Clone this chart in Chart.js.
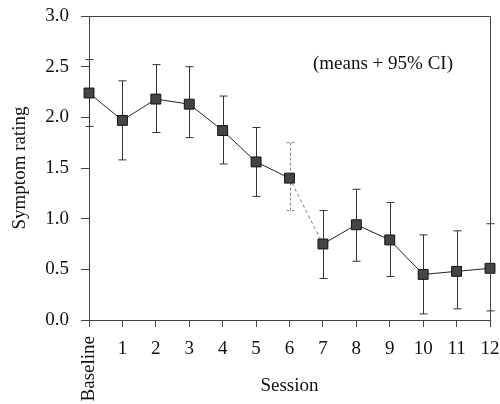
<!DOCTYPE html>
<html>
<head>
<meta charset="utf-8">
<script src="https://cdn.jsdelivr.net/npm/chart.js@4.4.1/dist/chart.umd.min.js"></script>
<style>
  html, body { margin: 0; padding: 0; background: #fff; }
  #wrap { width: 500px; height: 404px; }
</style>
</head>
<body>
<div id="wrap"><canvas id="symptom_chart"></canvas></div>
<script>
// sessions and symptom ratings (means with 95% CI)
const sessions = ['Baseline', '1', '2', '3', '4', '5', '6', '7', '8', '9', '10', '11', '12'];
const means = [2.24, 1.97, 2.18, 2.13, 1.87, 1.56, 1.40, 0.75, 0.94, 0.79, 0.45, 0.48, 0.51];
const ci_upper = [2.57, 2.36, 2.52, 2.50, 2.21, 1.90, 1.75, 1.08, 1.29, 1.16, 0.84, 0.88, 0.95];
const ci_lower = [1.91, 1.58, 1.85, 1.80, 1.54, 1.22, 1.08, 0.41, 0.58, 0.43, 0.06, 0.11, 0.09];
const y_ticks = [0, 0.5, 1.0, 1.5, 2.0, 2.5, 3.0];

const serif = '"Liberation Serif", "DejaVu Serif", serif';
const ink = '#222';

// error bars, frame and x labels
const extras = {
    id: 'extras',
    beforeDatasetsDraw(chart) {
        const ctx = chart.ctx;
        const x = chart.scales.x, y = chart.scales.y;
        ctx.save();
        ctx.lineWidth = 1;
        for (var i = 0; i < sessions.length; i++) {
            const px = Math.round(x.getPixelForValue(i)) + 0.5;
            const top = y.getPixelForValue(ci_upper[i]);
            const bot = y.getPixelForValue(ci_lower[i]);
            ctx.strokeStyle = i == 6 ? '#888' : '#333';
            ctx.setLineDash(i == 6 ? [3, 2] : []);
            ctx.beginPath();
            ctx.moveTo(px, top); ctx.lineTo(px, bot);
            ctx.moveTo(px - 4, top); ctx.lineTo(px + 4, top);
            ctx.moveTo(px - 4, bot); ctx.lineTo(px + 4, bot);
            ctx.stroke();
        }
        ctx.restore();
    },
    afterDraw(chart) {
        const ctx = chart.ctx;
        const a = chart.chartArea;
        const x = chart.scales.x;
        ctx.save();
        // top and right frame lines
        ctx.strokeStyle = '#444';
        ctx.lineWidth = 1;
        ctx.beginPath();
        ctx.moveTo(a.left, a.top + 0.5); ctx.lineTo(a.right + 0.5, a.top + 0.5);
        ctx.lineTo(a.right + 0.5, a.bottom);
        ctx.stroke();

        ctx.fillStyle = '#111';
        ctx.font = '19px ' + serif;
        for (var i = 0; i < sessions.length; i++) {
            const px = x.getPixelForValue(i);
            if (i == 0) {
                ctx.save();
                ctx.translate(px, a.bottom + 16);
                ctx.rotate(-Math.PI / 2);
                ctx.textAlign = 'right';
                ctx.textBaseline = 'middle';
                ctx.fillText(sessions[i], 0, 0);
                ctx.restore();
            } else {
                ctx.textAlign = 'center';
                ctx.textBaseline = 'middle';
                ctx.fillText(sessions[i], px, a.bottom + 29);
            }
        }
        ctx.textAlign = 'center';
        ctx.textBaseline = 'middle';
        ctx.fillText('Session', (a.left + a.right) / 2, a.bottom + 66);
        ctx.fillText('(means + 95% CI)', 383, 64);
        ctx.restore();
    }
};

const canvas = document.getElementById('symptom_chart');
const chart = new Chart(canvas, {
    type: 'line',
    data: {
        labels: sessions,
        datasets: [{
            label: 'Symptom rating',
            data: means,
            borderColor: ink,
            borderWidth: 1,
            pointStyle: 'rect',
            pointRadius: 7,
            pointBackgroundColor: '#454545',
            pointBorderColor: '#111',
            pointBorderWidth: 1,
            tension: 0,
            segment: {
                borderDash: c => c.p0DataIndex == 6 ? [3, 3] : undefined,
                borderColor: c => c.p0DataIndex == 6 ? '#777' : undefined
            }
        }]
    },
    options: {
        responsive: true,
        maintainAspectRatio: false,
        animation: false,
        layout: { padding: { top: 16, right: 10, left: 0, bottom: 0 } },
        plugins: {
            legend: { display: false },
            tooltip: { enabled: false }
        },
        scales: {
            x: {
                type: 'category',
                offset: false,
                grid: { display: true, drawOnChartArea: false, tickLength: 7, color: '#444' },
                border: { color: '#444', width: 1 },
                ticks: { display: false },
                afterFit: s => { s.height = 84; s.paddingLeft = 0; s.paddingRight = 0; }
            },
            y: {
                min: 0,
                max: 3,
                afterBuildTicks: s => { s.ticks = y_ticks.map(v => ({ value: v })); },
                grid: { display: true, drawOnChartArea: false, tickLength: 8, color: '#444' },
                border: { color: '#444', width: 1 },
                ticks: {
                    color: '#111',
                    padding: 12,
                    font: { family: serif, size: 19 },
                    callback: v => v.toFixed(1)
                },
                title: {
                    display: true,
                    text: 'Symptom rating',
                    color: '#111',
                    font: { family: serif, size: 19 },
                    padding: { top: 9, bottom: 0 }
                },
                afterFit: s => { s.width = 89; s.paddingTop = 0; s.paddingBottom = 0; }
            }
        }
    },
    plugins: [extras]
});
</script>
</body>
</html>
